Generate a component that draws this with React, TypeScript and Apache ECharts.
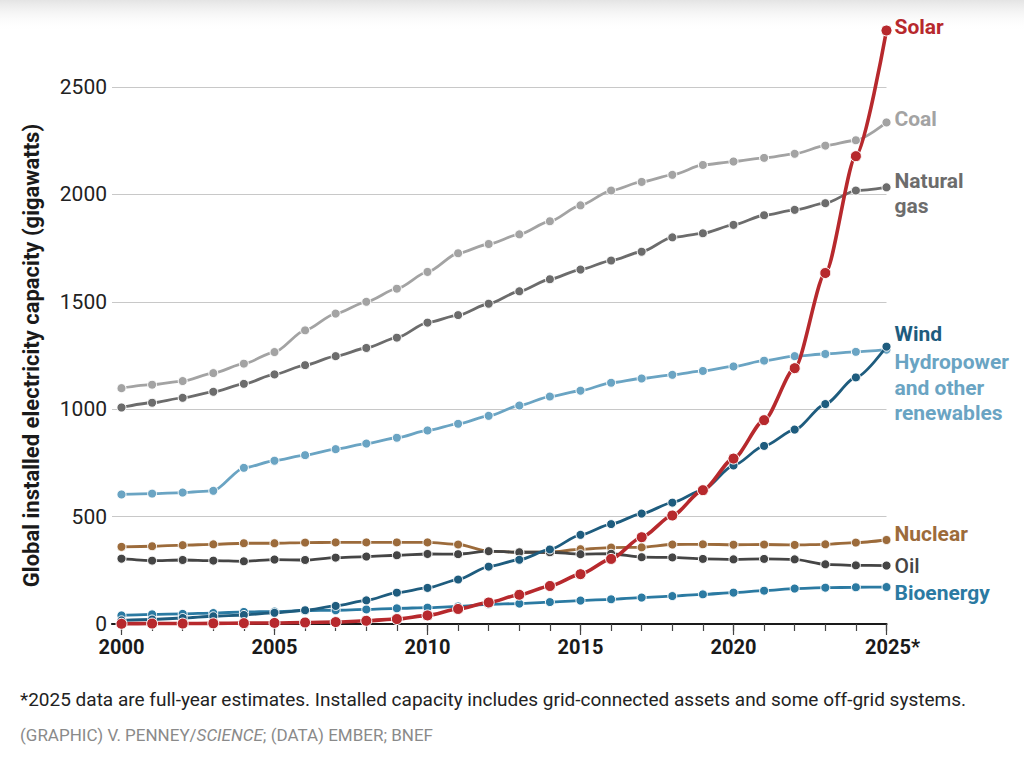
import React, { useEffect, useRef } from "react";
import * as echarts from "echarts";

const years = [2000, 2001, 2002, 2003, 2004, 2005, 2006, 2007, 2008, 2009, 2010, 2011, 2012, 2013, 2014, 2015, 2016, 2017, 2018, 2019, 2020, 2021, 2022, 2023, 2024, 2025];
const majorYears = [2000, 2005, 2010, 2015, 2020, 2025];
const yTicks = [0, 500, 1000, 1500, 2000, 2500];

const coal = [1098, 1114, 1131, 1168, 1212, 1266, 1367, 1445, 1500, 1561, 1639, 1726, 1769, 1814, 1875, 1949, 2018, 2058, 2091, 2137, 2153, 2170, 2189, 2227, 2252, 2335];
const gas = [1008, 1030, 1053, 1081, 1118, 1162, 1205, 1247, 1285, 1333, 1403, 1438, 1491, 1549, 1605, 1650, 1692, 1733, 1800, 1819, 1858, 1903, 1928, 1959, 2018, 2033];
const hydro = [603, 607, 612, 620, 727, 760, 786, 814, 840, 867, 901, 932, 969, 1017, 1059, 1086, 1123, 1143, 1160, 1178, 1199, 1226, 1247, 1257, 1267, 1277];
const wind = [17, 21, 28, 36, 42, 52, 64, 84, 110, 146, 168, 207, 267, 299, 347, 415, 465, 514, 565, 624, 738, 829, 905, 1024, 1148, 1291];
const nuclear = [359, 362, 367, 371, 376, 376, 379, 380, 380, 380, 380, 370, 339, 334, 334, 348, 356, 357, 370, 371, 369, 370, 368, 371, 379, 391];
const oil = [304, 295, 298, 295, 292, 300, 298, 309, 314, 320, 326, 325, 339, 334, 334, 325, 327, 311, 310, 303, 301, 303, 301, 278, 273, 272];
const bio = [40, 45, 47, 51, 56, 58, 62, 64, 68, 73, 76, 82, 92, 95, 102, 109, 115, 123, 130, 138, 146, 155, 165, 169, 171, 172];
const solar = [1, 2, 2, 3, 4, 5, 7, 9, 15, 23, 40, 70, 100, 136, 177, 232, 303, 404, 505, 623, 770, 949, 1191, 1634, 2178, 2763];

const FONT = "Roboto, 'Noto Sans', sans-serif";

export default function App() {
  const ref = useRef<HTMLDivElement>(null);
  useEffect(() => {
    document.body.style.margin = "0";
    const chart = echarts.init(ref.current!, null, { renderer: "svg" });
    const pair = (arr: number[]) => years.map((y, i) => [y, arr[i]]);
    const mk = (
      name: string,
      data: number[],
      color: string,
      label: string,
      offset: [number, number],
      opts: any = {}
    ) => ({
      type: "line",
      name,
      data: pair(data),
      clip: false,
      smooth: 0.25,
      smoothMonotone: "x",
      symbol: "circle",
      symbolSize: opts.symbolSize ?? 9,
      lineStyle: { color, width: opts.width ?? 2.8 },
      itemStyle: { color, borderColor: "#fff", borderWidth: 1 },
      z: opts.z ?? 2,
      endLabel: {
        show: true,
        formatter: label,
        color: opts.labelColor ?? color,
        fontFamily: FONT,
        fontWeight: opts.fontWeight ?? "bold",
        fontSize: 21,
        lineHeight: 25.5,
        distance: 8,
        offset,
        align: "left",
        verticalAlign: "middle",
      },
    });

    const option: any = {
      animation: false,
      backgroundColor: "#fff",
      textStyle: { fontFamily: FONT },
      grid: { left: 112, right: 137.5, top: 87, bottom: 135, containLabel: false },
      xAxis: [
        {
          type: "value",
          min: 1999.69,
          max: 2025,
          position: "bottom",
          axisLine: { show: true, onZero: false, lineStyle: { color: "#1a1a1a", width: 2.2 } },
          axisTick: { show: true, customValues: years, length: 7, lineStyle: { color: "#444", width: 1.2 } },
          axisLabel: {
            customValues: majorYears,
            fontFamily: FONT,
            fontWeight: "bold",
            fontSize: 20,
            color: "#1a1a1a",
            margin: 13,
            formatter: (v: number) => (v === 2025 ? "{p|}2025*" : String(v)),
            rich: { p: { width: 12 } },
          },
          splitLine: { show: false },
        },
        {
          type: "value",
          min: 1999.69,
          max: 2025,
          position: "bottom",
          axisLine: { show: false },
          axisTick: { show: true, customValues: majorYears, length: 11, lineStyle: { color: "#444", width: 1.2 } },
          axisLabel: { show: false },
          splitLine: { show: false },
        },
      ],
      yAxis: {
        type: "value",
        min: 0,
        max: 2500,
        interval: 500,
        name: "Global installed electricity capacity (gigawatts)",
        nameLocation: "middle",
        nameGap: 70,
        nameTextStyle: { fontFamily: FONT, fontWeight: "bold", fontSize: 22, color: "#1a1a1a" },
        axisLine: { show: false },
        axisTick: { show: false },
        axisLabel: {
          fontFamily: FONT,
          fontSize: 21,
          color: "#222",
          margin: 5,
          customValues: yTicks,
          formatter: (v: number) => String(v),
        },
        splitLine: { lineStyle: { color: "#c8c8c8", width: 1 } },
      },
      graphic: [
        {
          type: "rect",
          shape: { x: 0, y: 0, width: 1024, height: 32 },
          style: {
            fill: new echarts.graphic.LinearGradient(0, 0, 0, 1, [
              { offset: 0, color: "#e4e4e4" },
              { offset: 1, color: "rgba(255,255,255,0)" },
            ]),
          },
          silent: true,
          z: -1,
        },
        {
          type: "text",
          left: 20,
          top: 690,
          style: {
            text: "*2025 data are full-year estimates. Installed capacity includes grid-connected assets and some off-grid systems.",
            fontFamily: FONT,
            fontSize: 19,
            fill: "#222",
          },
        },
        {
          type: "text",
          left: 20,
          top: 726,
          style: {
            text: "(GRAPHIC) V. PENNEY/{i|SCIENCE}; (DATA) EMBER; BNEF",
            fontFamily: FONT,
            fontSize: 17,
            fill: "#8a8a8a",
            rich: { i: { fontStyle: "italic", fontFamily: FONT, fontSize: 17, fill: "#8a8a8a", color: "#8a8a8a" } },
          },
        },
      ],
      series: [
        mk("Coal", coal, "#a3a3a3", "Coal", [0, -3]),
        mk("Natural gas", gas, "#6c6c6c", "Natural\ngas", [0, 6]),
        mk("Hydropower", hydro, "#6aa4c3", "Hydropower\nand other\nrenewables", [0, 38]),
        mk("Nuclear", nuclear, "#9c6b3b", "Nuclear", [0, -6]),
        mk("Oil", oil, "#454545", "Oil", [0, 0], { fontWeight: 500 }),
        mk("Bioenergy", bio, "#2b7aa2", "Bioenergy", [0, 6]),
        mk("Wind", wind, "#1e5c7e", "Wind", [0, -13], { z: 3 }),
        mk("Solar", solar, "#b7292d", "Solar", [0, -4], { z: 4, width: 3.6, symbolSize: 11 }),
      ],
    };
    chart.setOption(option);
    return () => chart.dispose();
  }, []);
  return <div ref={ref} style={{ width: 1024, height: 759 }} />;
}
